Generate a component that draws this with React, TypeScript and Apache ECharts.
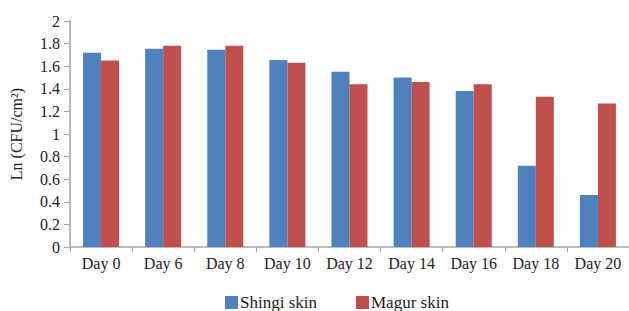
import React, { useEffect, useRef } from "react";
import * as echarts from "echarts";

const categories = ["Day 0", "Day 6", "Day 8", "Day 10", "Day 12", "Day 14", "Day 16", "Day 18", "Day 20"];
const shingi = [1.72, 1.755, 1.745, 1.655, 1.55, 1.5, 1.38, 0.72, 0.46];
const magur = [1.65, 1.78, 1.78, 1.63, 1.44, 1.46, 1.44, 1.33, 1.27];
const yTicks = { min: 0, max: 2, interval: 0.2 };

export default function App() {
  const ref = useRef<HTMLDivElement>(null);
  useEffect(() => {
    if (!ref.current) return;
    const chart = echarts.init(ref.current, null, { renderer: "svg" });
    const font = "'Liberation Serif', 'Times New Roman', serif";
    chart.setOption({
      animation: false,
      textStyle: { fontFamily: font },
      grid: { left: 70, top: 21, right: -1, bottom: 64 },
      legend: {
        top: 294,
        left: 225,
        padding: 0,
        itemWidth: 13,
        itemHeight: 13,
        itemGap: 39,
        icon: "rect",
        textStyle: { fontFamily: font, fontSize: 17, color: "#222", padding: [0, 0, 0, -3], lineHeight: 15 },
        data: ["Shingi skin", "Magur skin"],
      },
      xAxis: {
        type: "category",
        data: categories,
        axisLine: { lineStyle: { color: "#a6a6a6", width: 1.5 } },
        axisTick: { show: true, length: 5, lineStyle: { color: "#a6a6a6" } },
        axisLabel: { fontFamily: font, fontSize: 16, color: "#222", margin: 8 },
      },
      yAxis: {
        type: "value",
        min: yTicks.min,
        max: yTicks.max,
        interval: yTicks.interval,
        name: "Ln (CFU/cm²)",
        nameLocation: "middle",
        nameGap: 46,
        nameTextStyle: { fontFamily: font, fontSize: 16, color: "#222" },
        splitLine: { show: false },
        axisLine: { show: true, lineStyle: { color: "#a6a6a6", width: 1.5 } },
        axisTick: { show: true, length: 6, lineStyle: { color: "#a6a6a6" } },
        axisLabel: { fontFamily: font, fontSize: 16, color: "#222", margin: 10 },
      },
      series: [
        {
          name: "Shingi skin",
          type: "bar",
          data: shingi,
          itemStyle: { color: "#4F81BD" },
          barGap: "0%",
          barCategoryGap: "42%",
        },
        {
          name: "Magur skin",
          type: "bar",
          data: magur,
          itemStyle: { color: "#C0504D" },
          barGap: "0%",
          barCategoryGap: "42%",
        },
      ],
    });
    return () => chart.dispose();
  }, []);
  return (
    <div
      ref={ref}
      style={{ position: "fixed", left: 0, top: 0, width: 629, height: 311, background: "#fff" }}
    />
  );
}
